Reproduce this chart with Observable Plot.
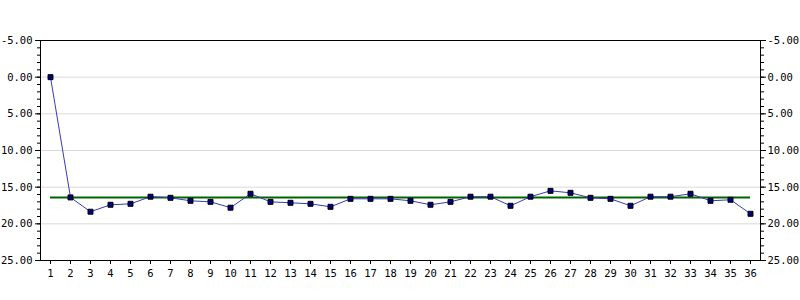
<!DOCTYPE html>
<html>
<head>
<meta charset="utf-8">
<script src="https://cdn.jsdelivr.net/npm/d3@7"></script>
<script src="https://cdn.jsdelivr.net/npm/@observablehq/plot@0.6"></script>
<style>
  html, body { margin: 0; padding: 0; background: #fff; }
  #chart svg { display: block; }
</style>
</head>
<body>
<div id="chart"></div>
<script>
const categories = d3.range(1, 37);
const values = [0, 16.4, 18.35, 17.4, 17.27, 16.3, 16.45, 16.86, 17.0, 17.8,
  15.9, 17.0, 17.13, 17.27, 17.68, 16.59, 16.59, 16.59, 16.86, 17.4,
  17.0, 16.3, 16.3, 17.54, 16.3, 15.5, 15.77, 16.45, 16.59, 17.54,
  16.3, 16.3, 15.9, 16.86, 16.72, 18.63];
const referenceLevel = 16.4;
const majorTicks = [-5, 0, 5, 10, 15, 20, 25];
const gridTicks = [0, 5, 10, 15, 20];
const minorTicks = d3.range(-5, 26, 1);

const data = categories.map((c, i) => ({x: c, y: values[i]}));
const font = "DejaVu Sans Mono";

const chart = Plot.plot({
  width: 800,
  height: 300,
  marginLeft: 40,
  marginRight: 40,
  marginTop: 40,
  marginBottom: 40,
  style: {fontFamily: font, fontSize: "10.5px", color: "#000", background: "#fff"},
  x: {type: "point", domain: categories, padding: 0.5},
  y: {domain: [-5, 25], reverse: true},
  marks: [
    Plot.ruleY(gridTicks, {stroke: "#d9d9d9", strokeWidth: 1}),
    Plot.axisY({anchor: "left", ticks: minorTicks, tickSize: 3, tickFormat: () => "", stroke: "#000", label: null}),
    Plot.axisY({anchor: "left", ticks: majorTicks, tickSize: 5, tickPadding: 3, tickFormat: d => d.toFixed(2), stroke: "#000", label: null}),
    Plot.axisY({anchor: "right", ticks: minorTicks, tickSize: 3, tickFormat: () => "", stroke: "#000", label: null}),
    Plot.axisY({anchor: "right", ticks: majorTicks, tickSize: 5, tickPadding: 2, tickFormat: d => d.toFixed(2), stroke: "#000", label: null}),
    Plot.axisX({ticks: categories, tickSize: 4, tickPadding: 5, label: null, stroke: "#000"}),
    Plot.frame({stroke: "#000", strokeWidth: 1}),
    Plot.ruleY([referenceLevel], {x1: categories[0], x2: categories[categories.length - 1], stroke: "#006400", strokeWidth: 2}),
    Plot.line(data, {x: "x", y: "y", stroke: "#3a3ab4", strokeWidth: 1}),
    Plot.dot(data, {x: "x", y: "y", symbol: "square", r: 2.8, fill: "#000080", stroke: "#000", strokeWidth: 1})
  ]
});
document.getElementById("chart").appendChild(chart);
</script>
</body>
</html>
